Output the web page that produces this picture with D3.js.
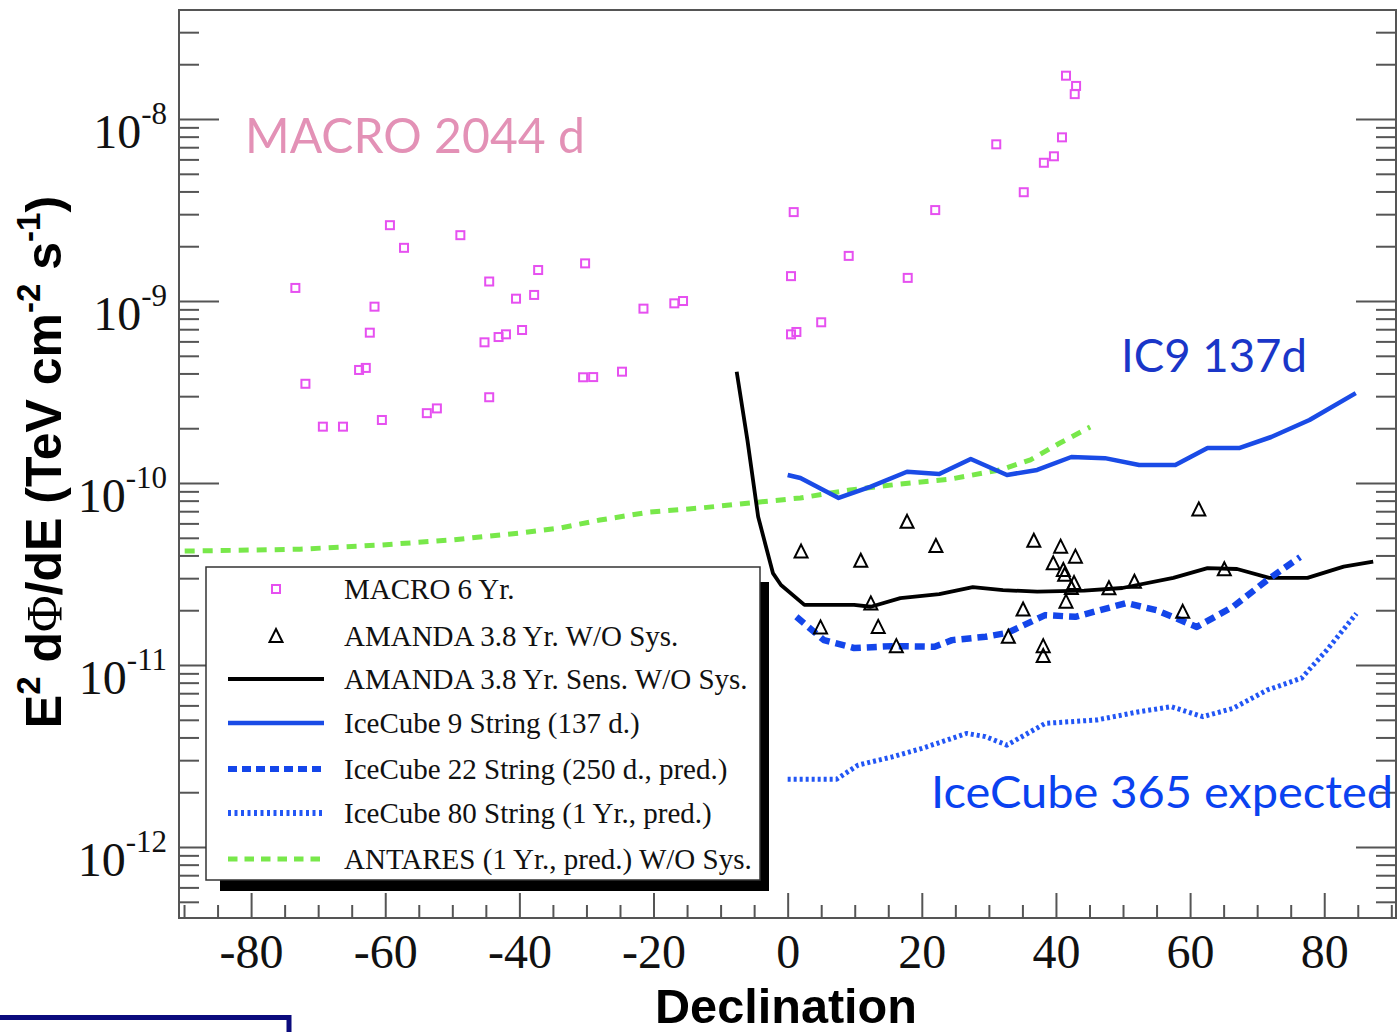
<!DOCTYPE html>
<html><head><meta charset="utf-8">
<script src="https://cdn.jsdelivr.net/npm/d3@7"></script>
<style>body{margin:0;background:#fff;overflow:hidden}svg{display:block}</style>
</head><body>
<svg id="chart" width="1398" height="1032"></svg>
<script>
// ---- data ----
const xMajorTicks = [-80,-60,-40,-20,0,20,40,60,80];
const yDecadeExponents = [-12,-11,-10,-9,-8];

const macroDec = [-59.3,-57.2,-48.8,-73.4,-61.6,-62.3,-44.5,-37.2,-30.2,-40.5,-37.8,-21.5,-16.9,-15.6,-45.2,-43.1,-42.0,-39.6,-63.9,-62.9,-71.9,-30.5,-29.0,-24.7,-44.5,-53.8,-52.3,-60.5,-69.3,-66.3,41.5,43.0,42.8,40.9,31.1,39.7,38.2,35.2,0.9,22.0,9.1,0.5,17.9,5.0,0.5,1.3];
const macroFlux = [2.61e-9,1.96e-9,2.30e-9,1.18e-9,9.31e-10,6.70e-10,1.28e-9,1.48e-9,1.61e-9,1.03e-9,1.08e-9,9.08e-10,9.71e-10,1.00e-9,5.93e-10,6.34e-10,6.56e-10,6.93e-10,4.18e-10,4.29e-10,3.51e-10,3.81e-10,3.82e-10,4.09e-10,2.96e-10,2.42e-10,2.57e-10,2.22e-10,2.04e-10,2.04e-10,1.73e-8,1.52e-8,1.37e-8,7.93e-9,7.26e-9,6.24e-9,5.75e-9,3.96e-9,3.08e-9,3.16e-9,1.77e-9,1.37e-9,1.34e-9,7.64e-10,6.56e-10,6.76e-10];

const amandaDec = [2.0,4.9,10.9,12.4,13.5,16.2,17.8,22.1,32.9,35.1,36.7,38.1,38.1,39.6,40.7,41.1,41.3,41.5,42.3,42.7,42.9,47.9,51.7,58.9,61.3,65.1];
const amandaFlux = [4.20e-11,1.61e-11,3.74e-11,2.18e-11,1.62e-11,1.27e-11,6.12e-11,4.51e-11,1.43e-11,2.02e-11,4.82e-11,1.27e-11,1.12e-11,3.62e-11,4.47e-11,3.33e-11,3.13e-11,2.23e-11,2.65e-11,2.82e-11,3.94e-11,2.64e-11,2.87e-11,1.96e-11,7.16e-11,3.36e-11];

const amandaSensDec = [-7.6,-6.0,-4.4,-2.2,-1.0,2.5,9.9,12.4,16.8,22.6,27.6,32.1,37.2,44.2,49.9,57.5,62.6,67.0,71.8,77.5,82.9,87.3];
const amandaSensFlux = [4.09e-10,1.72e-10,6.53e-11,3.20e-11,2.75e-11,2.14e-11,2.14e-11,2.09e-11,2.33e-11,2.45e-11,2.68e-11,2.58e-11,2.53e-11,2.56e-11,2.65e-11,3.01e-11,3.41e-11,3.37e-11,3.01e-11,3.01e-11,3.47e-11,3.70e-11];

const ic9Dec = [0.0,1.9,7.6,12.4,17.8,22.6,27.3,32.7,37.2,42.3,47.3,52.4,57.8,62.6,67.3,72.1,77.8,84.7];
const ic9Flux = [1.107e-10,1.065e-10,8.28e-11,9.55e-11,1.153e-10,1.12e-10,1.355e-10,1.107e-10,1.18e-10,1.39e-10,1.37e-10,1.256e-10,1.256e-10,1.556e-10,1.556e-10,1.79e-10,2.22e-10,3.12e-10];

const ic22Dec = [1.3,5.4,9.9,15.6,21.9,24.5,29.5,32.7,38.4,42.9,50.5,55.0,61.0,66.4,71.5,76.4];
const ic22Flux = [1.84e-11,1.37e-11,1.24e-11,1.27e-11,1.26e-11,1.37e-11,1.43e-11,1.50e-11,1.88e-11,1.84e-11,2.19e-11,2.00e-11,1.62e-11,2.09e-11,2.93e-11,3.92e-11];

const ic80Dec = [0.0,7.3,10.5,15.6,20.0,26.7,29.5,32.7,38.4,46.1,52.4,57.2,61.9,66.4,71.5,76.6,80.4,84.8];
const ic80Flux = [2.36e-12,2.36e-12,2.82e-12,3.13e-12,3.48e-12,4.21e-12,4.04e-12,3.63e-12,4.78e-12,4.99e-12,5.54e-12,5.90e-12,5.20e-12,5.78e-12,7.29e-12,8.46e-12,1.21e-11,1.92e-11];

const antaresDec = [-89.9,-80.1,-72.7,-60.8,-50.3,-39.9,-33.9,-28.0,-20.5,-13.0,-5.6,1.9,9.3,16.8,24.2,31.7,36.2,40.6,45.1];
const antaresFlux = [4.23e-11,4.28e-11,4.33e-11,4.56e-11,4.86e-11,5.31e-11,5.66e-11,6.26e-11,6.93e-11,7.29e-11,7.77e-11,8.28e-11,9.16e-11,9.88e-11,1.05e-10,1.18e-10,1.34e-10,1.66e-10,2.03e-10];

const legendLabels = ["MACRO 6 Yr.","AMANDA 3.8 Yr. W/O Sys.","AMANDA 3.8 Yr. Sens. W/O Sys.","IceCube 9 String (137 d.)","IceCube 22 String (250 d., pred.)","IceCube 80 String (1 Yr., pred.)","ANTARES (1 Yr., pred.) W/O Sys."];

// ---- layout ----
const L = 179, R = 1396, T = 10, B = 918;
const svg = d3.select("#chart");
const x = d3.scaleLinear().domain([-90.6, 90.7]).range([180, 1396]);
const y = d3.scaleLog().domain([Math.pow(10,-12.390), Math.pow(10,-7.401)]).range([B, T]);

const serif = "'Liberation Serif','Times New Roman',serif";
const sans = "'Liberation Sans',Arial,sans-serif";
const tickColor = "#555";

// frame
svg.append("rect").attr("x",L).attr("y",T).attr("width",R-L).attr("height",B-T)
  .attr("fill","none").attr("stroke","#555").attr("stroke-width",2);

// x axis
const xMinor = d3.range(-90,91,5).filter(v => v % 20 !== 0);
svg.append("g").attr("transform",`translate(0,${B})`)
  .call(d3.axisBottom(x).tickValues(xMinor).tickSizeInner(-13).tickSizeOuter(0).tickFormat(""));
const gx = svg.append("g").attr("transform",`translate(0,${B})`)
  .call(d3.axisBottom(x).tickValues(xMajorTicks).tickSizeInner(-25).tickSizeOuter(0).tickPadding(16).tickFormat(d => String(d)));
gx.selectAll("text").attr("font-family",serif).attr("font-size",48).attr("fill","#111");

// y axes
const yMinor = [];
for (let e = -13; e <= -8; e++) for (let k = 2; k <= 9; k++) {
  const v = k*Math.pow(10,e);
  if (v > y.domain()[0] && v < y.domain()[1]) yMinor.push(v);
}
const yMajor = yDecadeExponents.map(e => Math.pow(10,e));
svg.append("g").attr("transform",`translate(${L},0)`)
  .call(d3.axisLeft(y).tickValues(yMinor).tickSizeInner(-20).tickSizeOuter(0).tickFormat(""));
const gy = svg.append("g").attr("transform",`translate(${L},0)`)
  .call(d3.axisLeft(y).tickValues(yMajor).tickSizeInner(-40).tickSizeOuter(0).tickFormat(""));
svg.append("g").attr("transform",`translate(${R},0)`)
  .call(d3.axisRight(y).tickValues(yMinor).tickSizeInner(-20).tickSizeOuter(0).tickFormat(""));
svg.append("g").attr("transform",`translate(${R},0)`)
  .call(d3.axisRight(y).tickValues(yMajor).tickSizeInner(-40).tickSizeOuter(0).tickFormat(""));
svg.selectAll(".domain").remove();
svg.selectAll(".tick line").attr("stroke",tickColor).attr("stroke-width",2);

gy.selectAll(".tick").each(function(d){
  const e = Math.round(Math.log10(d));
  const t = d3.select(this).append("text").attr("x",-12).attr("y",28)
    .attr("text-anchor","end").attr("font-family",serif).attr("font-size",48).attr("fill","#111");
  t.append("tspan").text("10");
  t.append("tspan").attr("font-size",31).attr("dy",-24).text(String(e));
});

// axis titles
svg.append("text").attr("x",786).attr("y",1023).attr("text-anchor","middle")
  .attr("font-family",sans).attr("font-weight","bold").attr("font-size",48)
  .attr("textLength",262).attr("lengthAdjust","spacingAndGlyphs").attr("fill","#000").text("Declination");

const yt = svg.append("text").attr("transform","translate(61,462) rotate(-90)")
  .attr("text-anchor","middle").attr("font-family",sans).attr("font-weight","bold")
  .attr("font-size",50).attr("fill","#000");
yt.append("tspan").text("E");
yt.append("tspan").attr("font-size",33).attr("dy",-21).text("2");
yt.append("tspan").attr("dy",21).text(" d");
yt.append("tspan").attr("font-family",serif).attr("font-weight","normal").text("Φ");
yt.append("tspan").text("/dE (TeV cm");
yt.append("tspan").attr("font-size",33).attr("dy",-21).text("-2");
yt.append("tspan").attr("dy",21).text(" s");
yt.append("tspan").attr("font-size",33).attr("dy",-21).text("-1");
yt.append("tspan").attr("dy",21).text(")");

// ---- series ----
const line = d3.line().x(d => x(d[0])).y(d => y(d[1]));
const zip = (a,b) => a.map((v,i) => [v,b[i]]);

const styles = {
  antares: {color:"#78e84a", width:5, dash:"10,8"},
  ic9: {color:"#1a4be6", width:4.5, dash:null},
  sens: {color:"#000", width:3.8, dash:null},
  ic22: {color:"#1446ea", width:6.5, dash:"10,6"},
  ic80: {color:"#2256f5", width:5, dash:"3,3"}
};
function drawLine(data, st){
  svg.append("path").datum(data).attr("d",line).attr("fill","none")
    .attr("stroke",st.color).attr("stroke-width",st.width)
    .attr("stroke-dasharray",st.dash).attr("stroke-linejoin","round");
}
drawLine(zip(antaresDec,antaresFlux), styles.antares);
drawLine(zip(ic9Dec,ic9Flux), styles.ic9);
drawLine(zip(amandaSensDec,amandaSensFlux), styles.sens);
drawLine(zip(ic22Dec,ic22Flux), styles.ic22);
drawLine(zip(ic80Dec,ic80Flux), styles.ic80);

const macroColor = "#e650f0";
svg.append("g").selectAll("rect").data(zip(macroDec,macroFlux)).join("rect")
  .attr("x",d => x(d[0])-4).attr("y",d => y(d[1])-4).attr("width",8).attr("height",8)
  .attr("fill","none").attr("stroke",macroColor).attr("stroke-width",2);

const triPath = "M0,-7L6.5,6L-6.5,6Z";
svg.append("g").selectAll("path").data(zip(amandaDec,amandaFlux)).join("path")
  .attr("transform",d => `translate(${x(d[0])},${y(d[1])})`).attr("d",triPath)
  .attr("fill","none").attr("stroke","#000").attr("stroke-width",2);

// ---- annotations ----
const ann = "Lato,'Open Sans',sans-serif";
svg.append("text").attr("x",245).attr("y",153).attr("font-family",ann).attr("font-size",48)
  .attr("fill","#e391b6").attr("textLength",340).attr("lengthAdjust","spacingAndGlyphs").text("MACRO 2044 d");
svg.append("text").attr("x",1121).attr("y",372).attr("font-family",ann).attr("font-size",47)
  .attr("fill","#1a36c8").attr("textLength",186).attr("lengthAdjust","spacingAndGlyphs").text("IC9 137d");
svg.append("text").attr("x",931).attr("y",808).attr("font-family",ann).attr("font-size",45)
  .attr("fill","#0a42f0").attr("textLength",462).attr("lengthAdjust","spacingAndGlyphs").text("IceCube 365 expected");

// ---- legend ----
svg.append("rect").attr("x",220).attr("y",582).attr("width",549).attr("height",309).attr("fill","#000");
svg.append("rect").attr("x",206).attr("y",567).attr("width",554).attr("height",313)
  .attr("fill","#fff").attr("stroke","#333").attr("stroke-width",1.5);
const legStyles = [null,null,styles.sens,styles.ic9,{color:"#1446ea",width:6,dash:"9,5"},{color:"#2256f5",width:6,dash:"3,3.5"},{color:"#78e84a",width:5,dash:"9.5,7"}];
const rowY = [589,636,679,723,769,813,859];
legendLabels.forEach((lab,i) => {
  const cy = rowY[i];
  if (i === 0) {
    svg.append("rect").attr("x",272).attr("y",cy-4).attr("width",8).attr("height",8)
      .attr("fill","none").attr("stroke",macroColor).attr("stroke-width",2);
  } else if (i === 1) {
    svg.append("path").attr("transform",`translate(276,${cy})`).attr("d",triPath)
      .attr("fill","none").attr("stroke","#000").attr("stroke-width",2);
  } else {
    const st = legStyles[i];
    svg.append("line").attr("x1",228).attr("x2",324).attr("y1",cy).attr("y2",cy)
      .attr("stroke",st.color).attr("stroke-width",st.width).attr("stroke-dasharray",st.dash);
  }
  svg.append("text").attr("x",344).attr("y",cy+10).attr("font-family",serif).attr("font-size",29)
    .attr("fill","#111").text(lab);
});

// navy box at bottom-left
svg.append("rect").attr("x",-10).attr("y",1017.5).attr("width",299).attr("height",50)
  .attr("fill","none").attr("stroke","#0b0b7d").attr("stroke-width",5);
</script>
</body></html>
